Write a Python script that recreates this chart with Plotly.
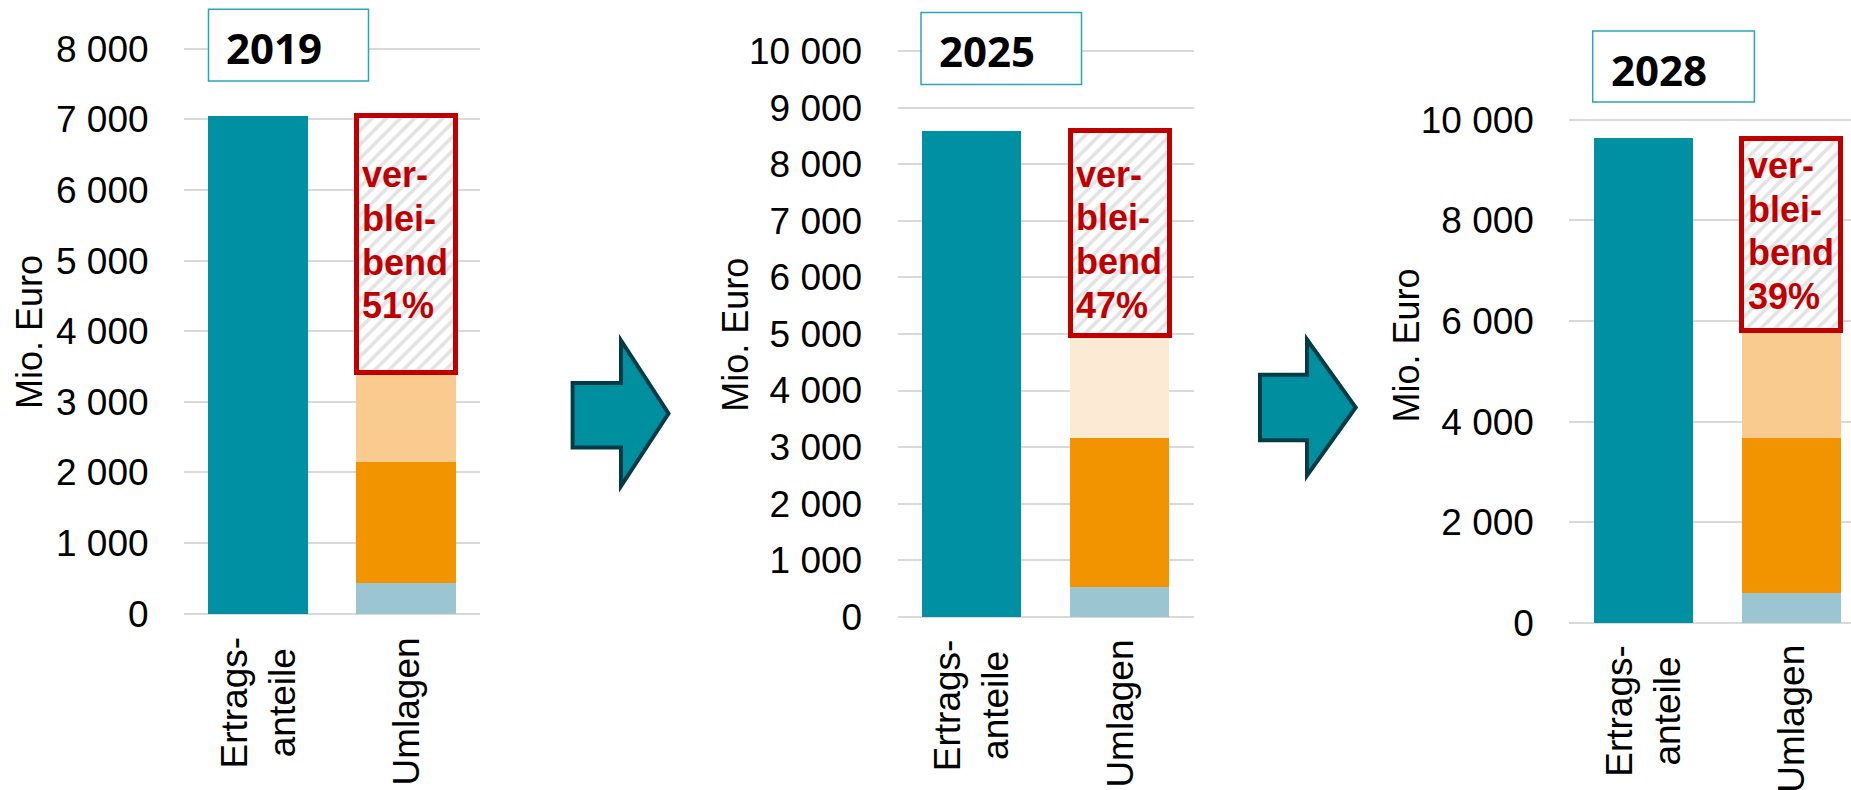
import plotly.graph_objects as go

W, H = 1851, 790

# ---------------- data ----------------
years = ["2019", "2025", "2028"]
cat_labels = ["Ertrags-<br>anteile", "Umlagen"]
ertragsanteile = [7050, 8600, 9640]
umlage_hellblau = [435, 525, 590]
umlage_orange = [1706, 2638, 3086]
umlage_hellorange = [1270, 1819, 2144]
verbleibend_pct = ["51%", "47%", "39%"]
verbleibend_words = ["ver-", "blei-", "bend"]
y_top_tick = [8000, 10000, 10000]
y_dtick = [1000, 1000, 2000]
y_title = "Mio. Euro"

# ---------------- styles / layout geometry (pixels) ----------------
FONT = "Liberation Sans, Arial, sans-serif"
YEARFONT = "Noto Sans, Open Sans, sans-serif"
C_TEAL = "#0090A4"
C_LBLUE = "#9CC5D2"
C_ORANGE = "#F29400"
C_LORANGE = ["#F9CB8E", "#FDEAD4", "#F9CB8E"]
C_RED = "#C00000"
C_GRID = "#D9D9D9"

x_px = [(184.0, 480.0), (897.6, 1193.8), (1569.3, 1851.0)]
y_zero_px = [613.6, 616.6, 622.7]
y_top_px = [48.9, 51.4, 119.9]
px_per_cat = 148.0
bar_w = 0.67

yearbox_px = [(208.5, 9.3, 368.5, 81.0), (921.0, 12.6, 1081.5, 84.6), (1592.7, 31.0, 1754.4, 102.0)]
yeartext_px = [(224.0, 47.5), (937.0, 50.4), (1609.0, 69.0)]
ytitle_px = [(29.6, 332.5), (734.7, 335.0), (1405.6, 346.0)]
cat_y_px = [(702.5, 711.5), (705.6, 714.0), (710.5, 718.5)]
text_offset_px = [4.0, -7.0, 3.0]
line_gap_px = 43.7


def fx(p):
    return p / W


def fy(p):
    return 1 - p / H


fig = go.Figure()
layout = dict(
    width=W, height=H, margin=dict(l=0, r=0, t=0, b=0, pad=0, autoexpand=False),
    paper_bgcolor="white", plot_bgcolor="white",
    showlegend=False, barmode="stack", separators=", ",
    font=dict(family=FONT, color="#000000"),
)
annotations = []
shapes = []

for i in range(3):
    ax = "" if i == 0 else str(i + 1)
    xa, ya = "x" + ax, "y" + ax
    verbleibend = ertragsanteile[i] - (umlage_hellblau[i] + umlage_orange[i] + umlage_hellorange[i])

    # axes geometry
    scale = (y_zero_px[i] - y_top_px[i]) / y_top_tick[i]
    lo, hi = -100, y_top_tick[i] * 1.02
    def vpx(v, i=i, scale=scale):
        return y_zero_px[i] - v * scale
    ydom = [fy(vpx(lo)), fy(vpx(hi))]
    x0, x1 = x_px[i]
    xdom = [fx(x0), min(1.0, fx(x1))]
    xr = [-0.5, -0.5 + (x1 - x0) / px_per_cat]

    layout["xaxis" + ax] = dict(domain=xdom, range=xr, anchor=ya, showgrid=False,
                                zeroline=False, showline=False, showticklabels=False,
                                fixedrange=True, automargin=False)
    layout["yaxis" + ax] = dict(domain=ydom, range=[lo, hi], anchor=xa, showgrid=True,
                                gridcolor=C_GRID, gridwidth=1.5, zeroline=False, showline=False,
                                tick0=0, dtick=y_dtick[i], tickformat=",d",
                                ticks="outside", ticklen=27, tickcolor="rgba(0,0,0,0)",
                                automargin=False,
                                tickfont=dict(size=37, family=FONT, color="#000000"))

    # bars
    fig.add_trace(go.Bar(x=[0], y=[ertragsanteile[i]], width=bar_w, marker_color=C_TEAL,
                         marker_line_width=0, xaxis=xa, yaxis=ya, hoverinfo="skip"))
    for val, col in [(umlage_hellblau[i], C_LBLUE), (umlage_orange[i], C_ORANGE),
                     (umlage_hellorange[i], C_LORANGE[i])]:
        fig.add_trace(go.Bar(x=[1], y=[val], width=bar_w, marker_color=col,
                             marker_line_width=0, xaxis=xa, yaxis=ya, hoverinfo="skip"))
    fig.add_trace(go.Bar(x=[1], y=[verbleibend], width=bar_w,
                         marker=dict(color="white",
                                     line=dict(color=C_RED, width=5),
                                     pattern=dict(shape="/", fgcolor="#C8C8C8", bgcolor="white",
                                                  size=10, solidity=0.38)),
                         xaxis=xa, yaxis=ya, hoverinfo="skip"))

    # verbleibend text
    box_lo = ertragsanteile[i] - verbleibend
    box_mid = box_lo + verbleibend / 2
    lines = verbleibend_words + [verbleibend_pct[i]]
    for k, t in enumerate(lines):
        annotations.append(dict(
            x=1 - bar_w / 2, y=box_mid, xref=xa, yref=ya, xanchor="left", yanchor="middle",
            xshift=4, yshift=text_offset_px[i] + (1.5 - k) * line_gap_px,
            text="<b>%s</b>" % t, showarrow=False,
            font=dict(family=FONT, size=36, color=C_RED)))

    # year box
    bx0, by0, bx1, by1 = yearbox_px[i]
    shapes.append(dict(type="rect", xref="paper", yref="paper", x0=fx(bx0), x1=fx(bx1),
                       y0=fy(by1), y1=fy(by0), line=dict(color="#2BA5B8", width=1.5),
                       fillcolor="white", layer="above"))
    tx, ty = yeartext_px[i]
    annotations.append(dict(x=fx(tx), y=fy(ty), xref="paper", yref="paper", xanchor="left",
                            yanchor="middle", text="<b>%s</b>" % years[i], showarrow=False,
                            font=dict(family=YEARFONT, size=42, color="#000000")))

    # y title
    ttx, tty = ytitle_px[i]
    annotations.append(dict(x=fx(ttx), y=fy(tty), xref="paper", yref="paper", xanchor="center",
                            yanchor="middle", text=y_title, textangle=-90, showarrow=False,
                            font=dict(family=FONT, size=36, color="#000000")))

    # category labels
    for c in range(2):
        annotations.append(dict(x=c, y=fy(cat_y_px[i][c]), xref=xa, yref="paper",
                                xanchor="center", yanchor="middle", text=cat_labels[c],
                                textangle=-90, showarrow=False, align="center",
                                font=dict(family=FONT, size=37, color="#000000")))

# arrows between panels (decorative)
arrows_px = [
    dict(x0=572.6, xb=621.0, xt=668.5, yt=413.5, sy0=383.0, sy1=447.5, hy0=340.5, hy1=486.0),
    dict(x0=1260.0, xb=1307.0, xt=1355.7, yt=407.5, sy0=374.8, sy1=440.3, hy0=339.5, hy1=475.6),
]
for a in arrows_px:
    pts = [(a["x0"], a["sy0"]), (a["xb"], a["sy0"]), (a["xb"], a["hy0"]), (a["xt"], a["yt"]),
           (a["xb"], a["hy1"]), (a["xb"], a["sy1"]), (a["x0"], a["sy1"])]
    path = "M " + " L ".join("%.5f,%.5f" % (fx(px), fy(py)) for px, py in pts) + " Z"
    shapes.append(dict(type="path", xref="paper", yref="paper", path=path,
                       fillcolor="#008F9F", line=dict(color="#003B47", width=4), layer="above"))

layout["annotations"] = annotations
layout["shapes"] = shapes
fig.update_layout(**layout)
fig.write_html("out.html")
